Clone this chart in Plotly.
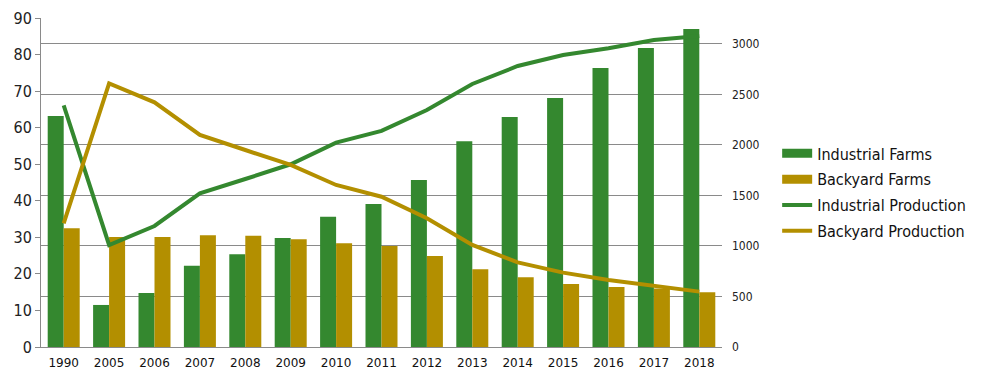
import plotly.graph_objects as go

years = ["1990", "2005", "2006", "2007", "2008", "2009", "2010", "2011",
         "2012", "2013", "2014", "2015", "2016", "2017", "2018"]
industrial_farms = [63.2, 11.5, 14.8, 22.2, 25.4, 29.8, 35.6, 39.1,
                    45.7, 56.3, 62.9, 68.1, 76.3, 81.8, 87.0]
backyard_farms = [32.5, 30.1, 30.1, 30.6, 30.4, 29.5, 28.4, 27.6,
                  24.9, 21.3, 19.1, 17.2, 16.4, 16.0, 15.0]
industrial_production = [2393, 1010, 1198, 1522, 1663, 1809, 2023, 2139,
                         2346, 2604, 2782, 2891, 2957, 3039, 3079]
backyard_production = [1225, 2610, 2422, 2099, 1950, 1802, 1604, 1488,
                       1274, 1010, 838, 736, 663, 604, 548]

GREEN = "#34882F"
GOLD = "#B38F00"
GRID = "#8A8A8A"
AX_FONT = "DejaVu Sans Condensed, DejaVu Sans, sans-serif"

fig = go.Figure()
fig.add_trace(go.Bar(x=years, y=industrial_farms, name="Industrial Farms",
                     marker=dict(color=GREEN, line=dict(width=0)),
                     legendgroup="if", showlegend=False, yaxis="y"))
fig.add_trace(go.Bar(x=years, y=backyard_farms, name="Backyard Farms",
                     marker=dict(color=GOLD, line=dict(width=0)),
                     legendgroup="bf", showlegend=False, yaxis="y"))
fig.add_trace(go.Scatter(x=years, y=industrial_production, name="Industrial Production",
                         mode="lines", line=dict(color=GREEN, width=4),
                         legendgroup="ip", showlegend=False, yaxis="y2"))
fig.add_trace(go.Scatter(x=years, y=backyard_production, name="Backyard Production",
                         mode="lines", line=dict(color=GOLD, width=4),
                         legendgroup="bp", showlegend=False, yaxis="y2"))

# legend entries (styled like the reference's wide swatches)
for name, col, w, grp in [("Industrial Farms", GREEN, 9, "if"),
                          ("Backyard Farms", GOLD, 9, "bf"),
                          ("Industrial Production", GREEN, 4, "ip"),
                          ("Backyard Production", GOLD, 4, "bp")]:
    fig.add_trace(go.Scatter(x=[None], y=[None], mode="lines", name=name,
                             line=dict(color=col, width=w), legendgroup=grp,
                             yaxis="y2"))

# page body has an 8px margin, so the figure is sized to fit the window
fig.update_layout(
    width=977, height=377,
    margin=dict(l=33, r=263, t=10, b=38, autoexpand=False),
    paper_bgcolor="white", plot_bgcolor="white",
    barmode="group", bargap=0.295, bargroupgap=0,
    font=dict(family=AX_FONT, color="#222222"),
    xaxis=dict(type="category", showgrid=False, showline=True, linecolor=GRID,
               linewidth=1, ticks="", automargin=False,
               tickfont=dict(family="DejaVu Sans", size=12, color="#111111"),
               ticklabelstandoff=5),
    yaxis=dict(range=[0, 90], dtick=10, showgrid=False, showline=True,
               linecolor=GRID, linewidth=1, ticks="outside", ticklen=5,
               tickcolor=GRID, tickfont=dict(size=16, color="#222222"),
               zeroline=False, automargin=False),
    yaxis2=dict(range=[0, 3257], dtick=500, overlaying="y", side="right",
                showgrid=True, gridcolor=GRID, gridwidth=1, showline=False,
                ticks="", tickfont=dict(size=12, color="#222222"),
                zeroline=False, ticklabelstandoff=9, automargin=False),
    legend=dict(x=1.081, y=0.64, xanchor="left", yanchor="top",
                font=dict(size=16, color="#111111"), bgcolor="rgba(0,0,0,0)",
                traceorder="grouped", tracegroupgap=2),
)

fig.write_html("out.html")
